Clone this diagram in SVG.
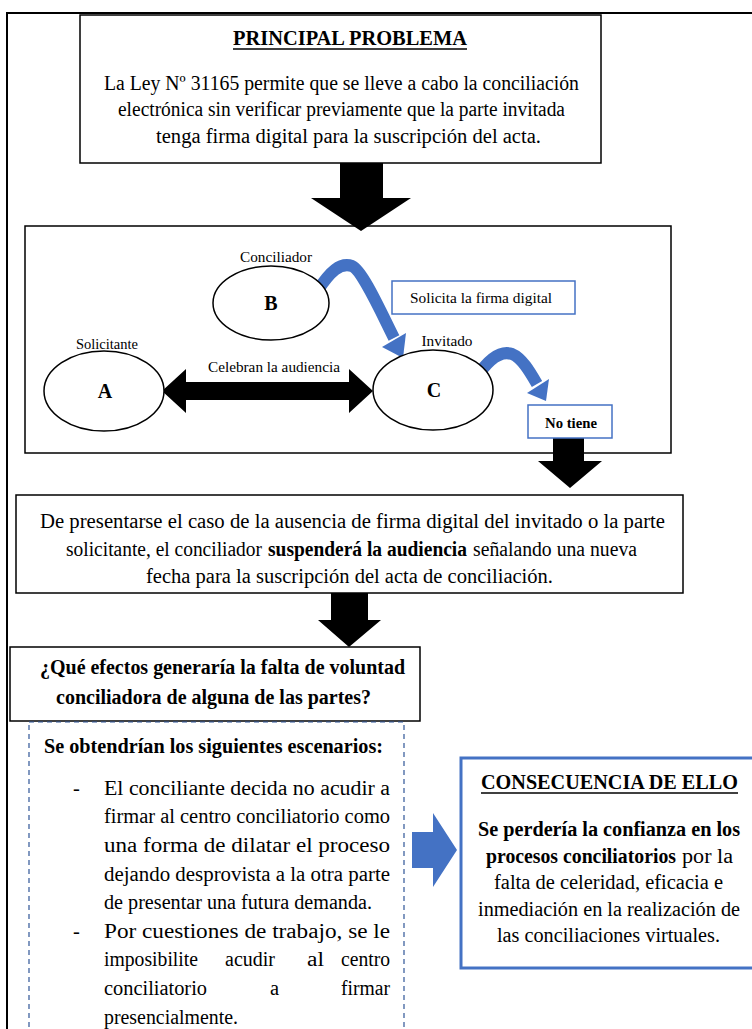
<svg xmlns="http://www.w3.org/2000/svg" width="752" height="1029" viewBox="0 0 752 1029">
<style>
text{font-family:"Liberation Serif","Times New Roman",Tinos,"DejaVu Serif",serif;fill:#000}
.t{font-size:20.5px}
.s{font-size:15px}
.l{font-size:20px;font-weight:bold}
.b{font-weight:bold}
.box{fill:#fff;stroke:#000;stroke-width:1.5}
.bbox{fill:#fff;stroke:#4472C4;stroke-width:1.5}
.ell{fill:#fff;stroke:#000;stroke-width:1.5}
.blk{fill:#000}
.blue{fill:#4472C4}
.curve{fill:none;stroke:#4472C4;stroke-width:12}
</style>
<rect width="752" height="1029" fill="#fff"/>
<path d="M7,1029 V13 H752" fill="none" stroke="#000" stroke-width="2"/>

<g id="escenario">
<rect class="box" x="25" y="226" width="646" height="227"/>
</g>

<g id="connectors">
<polygon class="blk" points="340,163 383,163 383,198 411,198 361,231 311,198 340,198"/>
<polygon class="blk" points="162,391 186,369 186,382 349,382 349,369 373,391 349,413 349,400 186,400 186,413"/>
<path class="curve" d="M318,290 C330,272 340,262 352,266 C362,270 380,310 394,338"/>
<polygon class="blue" points="403,358 382,347 406,333"/>
<path class="curve" d="M476,378 C488,360 500,350 512,354 C522,358 530,372 537,384"/>
<polygon class="blue" points="546,401 527,393 549,379"/>
<polygon class="blk" points="553,437 584,437 584,461 602,461 570,488 538,461 553,461"/>
<polygon class="blk" points="331,593 368,593 368,620 381,620 349,647 318,620 331,620"/>
<polygon class="blue" points="412,832 433,832 433,813 457,850 433,887 433,868 412,868"/>
</g>

<g id="problema">
<rect class="box" x="80" y="15" width="521" height="148"/>
<text class="t b" x="350" y="45" text-anchor="middle" textLength="234" lengthAdjust="spacingAndGlyphs">PRINCIPAL PROBLEMA</text>
<line x1="233" y1="49" x2="467" y2="49" stroke="#000" stroke-width="1.3"/>
<text class="t" x="341.5" y="90" text-anchor="middle" textLength="475" lengthAdjust="spacingAndGlyphs">La Ley Nº 31165 permite que se lleve a cabo la conciliación</text>
<text class="t" x="341.5" y="116" text-anchor="middle" textLength="447" lengthAdjust="spacingAndGlyphs">electrónica sin verificar previamente que la parte invitada</text>
<text class="t" x="348.5" y="143" text-anchor="middle" textLength="385" lengthAdjust="spacingAndGlyphs">tenga firma digital para la suscripción del acta.</text>
</g>

<g id="nodoB">
<ellipse class="ell" cx="271" cy="303" rx="58" ry="37"/>
<text class="s" x="276" y="262" text-anchor="middle" textLength="72" lengthAdjust="spacingAndGlyphs">Conciliador</text>
<text class="l" x="271" y="310" text-anchor="middle">B</text>
</g>
<g id="nodoA">
<ellipse class="ell" cx="104" cy="391" rx="60" ry="40"/>
<text class="s" x="107" y="349" text-anchor="middle" textLength="62" lengthAdjust="spacingAndGlyphs">Solicitante</text>
<text class="l" x="105" y="398" text-anchor="middle">A</text>
</g>
<g id="nodoC">
<ellipse class="ell" cx="433" cy="390" rx="60" ry="40"/>
<text class="s" x="447" y="346" text-anchor="middle" textLength="51" lengthAdjust="spacingAndGlyphs">Invitado</text>
<text class="l" x="434" y="397" text-anchor="middle">C</text>
</g>
<g id="celebran">
<text class="s" x="274" y="372" text-anchor="middle" textLength="132" lengthAdjust="spacingAndGlyphs">Celebran la audiencia</text>
</g>
<g id="solicita">
<rect class="bbox" x="392" y="281" width="183" height="33"/>
<text class="s" x="481" y="303" text-anchor="middle" textLength="142" lengthAdjust="spacingAndGlyphs">Solicita la firma digital</text>
</g>
<g id="notiene">
<rect class="bbox" x="528" y="405" width="84" height="33"/>
<text class="s b" x="571" y="428" text-anchor="middle" textLength="52" lengthAdjust="spacingAndGlyphs">No tiene</text>
</g>

<g id="suspension">
<rect class="box" x="16" y="495" width="667" height="98"/>
<text class="t" x="352.5" y="528" text-anchor="middle" textLength="625" lengthAdjust="spacingAndGlyphs">De presentarse el caso de la ausencia de firma digital del invitado o la parte</text>
<text class="t" x="66" y="556" textLength="196" lengthAdjust="spacingAndGlyphs">solicitante, el conciliador</text>
<text class="t b" x="268" y="556" textLength="199" lengthAdjust="spacingAndGlyphs">suspenderá la audiencia</text>
<text class="t" x="473" y="556" textLength="164" lengthAdjust="spacingAndGlyphs">señalando una nueva</text>
<text class="t" x="349.5" y="583" text-anchor="middle" textLength="407" lengthAdjust="spacingAndGlyphs">fecha para la suscripción del acta de conciliación.</text>
</g>

<g id="pregunta">
<rect class="box" x="10" y="647" width="410" height="74"/>
<text class="t b" x="222.5" y="674" text-anchor="middle" textLength="365" lengthAdjust="spacingAndGlyphs">¿Qué efectos generaría la falta de voluntad</text>
<text class="t b" x="213.5" y="704" text-anchor="middle" textLength="315" lengthAdjust="spacingAndGlyphs">conciliadora de alguna de las partes?</text>
</g>

<g id="escenarios">
<rect x="29" y="722" width="375" height="340" fill="none" stroke="#2F5597" stroke-width="1.2" stroke-dasharray="5,4"/>
<text class="t b" x="44" y="753" textLength="339" lengthAdjust="spacingAndGlyphs">Se obtendrían los siguientes escenarios:</text>
<text class="t" x="73" y="795">-</text>
<text class="t" x="104" y="795" textLength="286" lengthAdjust="spacingAndGlyphs">El conciliante decida no acudir a</text>
<text class="t" x="104" y="823" textLength="286" lengthAdjust="spacingAndGlyphs">firmar al centro conciliatorio como</text>
<text class="t" x="104" y="852" textLength="286" lengthAdjust="spacingAndGlyphs">una forma de dilatar el proceso</text>
<text class="t" x="104" y="881" textLength="286" lengthAdjust="spacingAndGlyphs">dejando desprovista a la otra parte</text>
<text class="t" x="104" y="909" textLength="268" lengthAdjust="spacingAndGlyphs">de presentar una futura demanda.</text>
<text class="t" x="73" y="938">-</text>
<text class="t" x="104" y="938" textLength="286" lengthAdjust="spacingAndGlyphs">Por cuestiones de trabajo, se le</text>
<text class="t" x="104" y="966" textLength="94" lengthAdjust="spacingAndGlyphs">imposibilite</text>
<text class="t" x="225" y="966" textLength="50" lengthAdjust="spacingAndGlyphs">acudir</text>
<text class="t" x="307" y="966" textLength="17" lengthAdjust="spacingAndGlyphs">al</text>
<text class="t" x="341" y="966" textLength="49" lengthAdjust="spacingAndGlyphs">centro</text>
<text class="t" x="104" y="995" textLength="103" lengthAdjust="spacingAndGlyphs">conciliatorio</text>
<text class="t" x="270" y="995">a</text>
<text class="t" x="341" y="995" textLength="49" lengthAdjust="spacingAndGlyphs">firmar</text>
<text class="t" x="104" y="1024" textLength="134" lengthAdjust="spacingAndGlyphs">presencialmente.</text>
</g>

<g id="consecuencia">
<rect x="461" y="758" width="300" height="210" fill="#fff" stroke="#4472C4" stroke-width="3"/>
<text class="t b" x="609.5" y="789" text-anchor="middle" textLength="257" lengthAdjust="spacingAndGlyphs">CONSECUENCIA DE ELLO</text>
<line x1="481" y1="793" x2="738" y2="793" stroke="#000" stroke-width="1.3"/>
<text class="t b" x="609" y="836" text-anchor="middle" textLength="262" lengthAdjust="spacingAndGlyphs">Se perdería la confianza en los</text>
<text class="t b" x="486" y="863" textLength="190" lengthAdjust="spacingAndGlyphs">procesos conciliatorios</text>
<text class="t" x="682" y="863" textLength="51" lengthAdjust="spacingAndGlyphs">por la</text>
<text class="t" x="608.5" y="889" text-anchor="middle" textLength="229" lengthAdjust="spacingAndGlyphs">falta de celeridad, eficacia e</text>
<text class="t" x="609" y="916" text-anchor="middle" textLength="262" lengthAdjust="spacingAndGlyphs">inmediación en la realización de</text>
<text class="t" x="608.5" y="942" text-anchor="middle" textLength="223" lengthAdjust="spacingAndGlyphs">las conciliaciones virtuales.</text>
</g>
</svg>
